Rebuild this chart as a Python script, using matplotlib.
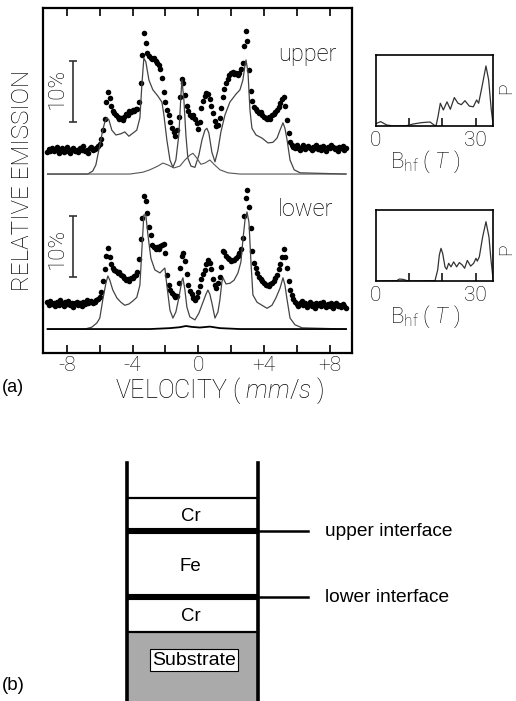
import numpy as np
import matplotlib
matplotlib.use('Agg')
import matplotlib.pyplot as plt

plt.rcParams['font.family'] = 'Roboto'
plt.rcParams['font.weight'] = 'light'
plt.rcParams['mathtext.fontset'] = 'custom'
plt.rcParams['mathtext.rm'] = 'Roboto:light'
plt.rcParams['mathtext.it'] = 'Roboto:italic:light'

# velocity channels (mm/s), -9.2 ... 9.0
vel = np.round(np.arange(-9.2, 9.05, 0.1), 1)

# relative emission (%) above each spectrum's own baseline
upper_dots = [3.6, 4.1, 3.8, 4.3, 3.7, 3.9, 4.4, 3.5, 4.0, 4.2, 3.6, 3.9, 4.5, 3.8, 3.4, 4.1,
              4.3, 3.7, 4.0, 3.6, 4.2, 3.9, 4.6, 3.8, 4.0, 3.5, 4.2, 4.4, 3.9, 4.1, 4.3, 4.6,
              4.9, 5.8, 7.2, 9.0, 11.8, 13.4, 12.5, 11.2, 10.3, 10.0,
              9.6, 9.3, 9.0, 9.2, 8.9, 9.4, 9.8, 9.6, 10.3, 10.1,
              10.5, 10.3, 10.7, 10.6, 11.8, 15.0, 19.5, 23.2, 21.5, 19.8,
              19.3, 19.1, 18.9, 19.0, 18.5, 18.2, 17.8, 17.2, 15.8, 13.4,
              11.8, 10.5, 9.6, 8.5, 7.6, 6.9, 6.3, 7.2, 9.4, 12.6,
              15.6, 15.0, 13.0, 11.2, 10.3, 9.7, 9.4, 9.6, 9.0, 8.4,
              7.4, 8.6, 10.8, 12.0, 12.8, 13.3, 13.2, 12.3, 11.2, 10.0,
              8.7, 7.8, 8.0, 9.2, 10.8, 12.6, 13.9, 14.9, 15.6, 16.2,
              16.5, 16.7, 16.4, 16.6, 16.3, 16.6, 17.2, 18.2, 21.0, 23.4,
              21.8, 17.0, 13.6, 12.0, 11.0, 10.6, 10.4, 10.0, 10.2, 9.7,
              9.4, 9.2, 9.0, 9.3, 9.1, 9.6, 9.8, 10.2, 10.5, 11.0,
              11.6, 12.3, 12.6, 11.2, 8.9, 6.8, 5.3, 4.7,
              4.4, 4.2, 4.7, 4.3, 4.0, 4.5, 4.8, 4.1, 4.4, 4.6, 4.2, 3.9, 4.5, 4.3, 4.7, 4.1,
              4.4, 4.0, 4.6, 4.3, 3.8, 4.5, 4.2, 4.7, 4.4, 4.1, 4.3, 3.7, 4.5, 4.2, 4.6, 4.0, 4.3]

lower_dots = [4.4, 3.9, 4.6, 4.1, 4.3, 3.7, 4.5, 4.0, 4.8, 4.2, 3.8, 4.4, 4.1, 4.6, 3.9, 4.3,
              3.6, 4.2, 4.5, 4.0, 4.3, 3.8, 4.4, 4.1, 4.7, 4.2, 4.4, 4.6, 4.3, 4.5, 4.8, 5.0,
              5.2, 6.0, 7.8, 9.8, 12.0, 13.3, 11.8, 10.6, 10.0, 9.6,
              9.5, 9.2, 9.3, 8.9, 8.7, 8.4, 8.0, 8.2, 7.9, 8.3,
              8.4, 8.7, 8.9, 9.4, 11.5, 14.8, 18.2, 21.8, 21.0, 19.0,
              16.8, 15.4, 13.8, 13.4, 13.2, 13.4, 13.2, 13.6, 13.8, 14.0,
              12.4, 8.8, 7.3, 6.4, 5.9, 5.6, 5.3, 5.4, 7.6, 10.0,
              12.0, 12.4, 11.2, 9.0, 7.3, 6.3, 5.7, 5.1, 4.8, 5.3,
              6.1, 7.0, 8.2, 9.0, 9.6, 10.6, 11.3, 10.8, 9.8, 8.2,
              7.2, 6.7, 7.5, 8.5, 10.2, 12.8, 12.7, 12.0, 11.6, 11.5,
              11.2, 11.4, 11.3, 11.6, 11.9, 12.4, 13.2, 15.0, 18.6, 21.5,
              22.8, 20.0, 16.5, 12.8, 10.8, 10.0, 9.2, 8.6, 8.2, 7.8,
              7.5, 7.3, 7.2, 7.0, 7.4, 7.5, 7.9, 8.4, 8.9, 9.8,
              10.6, 11.8, 13.2, 11.8, 10.0, 7.8, 6.4, 5.6, 5.0,
              4.4, 4.1, 3.8, 4.3, 4.6, 3.9, 4.2, 3.6, 4.0, 4.4, 3.8, 4.1, 3.5, 4.3, 3.9, 4.2,
              3.7, 4.4, 4.0, 3.6, 4.1, 3.8, 4.3, 3.5, 3.9, 4.2, 3.7, 4.0, 3.6, 4.1, 3.8, 3.4]

# fitted subspectra
upper_fit_v = [-9.17, -6.72, -6.42, -6.23, -5.99, -5.81, -5.69, -5.56, -5.44, -5.26,
               -5.01, -4.71, -4.47, -4.22, -3.98, -3.74, -3.55, -3.43, -3.31, -3.19,
               -3.0, -2.76, -2.46, -2.21, -2.09, -1.91, -1.72, -1.54, -1.36, -1.18,
               -1.05, -0.99, -0.87, -0.75, -0.63, -0.44, -0.2, 0.04, 0.23, 0.41,
               0.53, 0.65, 0.83, 1.02, 1.2, 1.38, 1.63, 1.93, 2.3, 2.54,
               2.72, 2.85, 2.91, 3.03, 3.15, 3.27, 3.52, 3.88, 4.25, 4.55,
               4.8, 4.98, 5.16, 5.28, 5.41, 5.59, 5.84, 6.2, 9.0]
upper_fit = [0, 0, 0.5, 1.5, 4.75, 7.2, 8.5, 9.2, 8.9, 7.2,
             6.4, 6.6, 6.9, 6.2, 6.7, 7.2, 9.2, 14.6, 19.0, 18.4,
             15.4, 13.8, 12.8, 11.8, 9.7, 5.6, 2.3, 1.1, 2.3, 6.4,
             13.0, 15.4, 12.1, 6.4, 2.6, 1.3, 1.1, 3.1, 5.6, 7.2,
             7.5, 6.7, 3.6, 2.0, 3.9, 6.9, 9.7, 11.8, 13.1, 13.8,
             15.4, 17.9, 18.7, 16.7, 10.5, 7.5, 6.4, 5.9, 5.1, 5.2,
             5.9, 7.2, 8.4, 7.5, 5.6, 2.3, 0.7, 0.2, 0]
upper_comp_v = [-9.17, -4.16, -3.37, -2.94, -2.46, -2.15, -1.85, -1.48, -1.12, -0.81, -0.51,
                -0.32, -0.08, 0.16, 0.41, 0.71, 0.96, 1.32, 1.81, 2.54, 9.0]
upper_comp = [0, 0, 0.3, 0.7, 1.3, 1.8, 1.5, 1.0, 1.3, 2.3, 3.1,
              3.4, 2.6, 1.6, 1.8, 2.3, 1.6, 0.7, 0.2, 0, 0]

lower_fit_v = [-9.17, -6.9, -6.48, -6.17, -5.99, -5.81, -5.62, -5.5, -5.38, -5.2,
               -4.95, -4.71, -4.47, -4.22, -3.98, -3.74, -3.55, -3.43, -3.31, -3.19,
               -3.06, -2.88, -2.64, -2.33, -2.15, -2.03, -1.91, -1.72, -1.54, -1.36,
               -1.18, -0.99, -0.93, -0.81, -0.69, -0.51, -0.2, 0.04, 0.29, 0.47,
               0.59, 0.71, 0.83, 1.02, 1.2, 1.32, 1.44, 1.51, 1.69, 1.93,
               2.18, 2.42, 2.6, 2.72, 2.85, 2.97, 3.09, 3.21, 3.33, 3.58,
               3.88, 4.19, 4.49, 4.73, 4.98, 5.16, 5.28, 5.41, 5.59, 5.89, 6.32, 9.0]
lower_fit = [0, 0, 0.3, 1.0, 1.8, 4.8, 7.5, 8.7, 8.0, 6.4,
             5.1, 4.4, 3.9, 4.1, 4.6, 5.2, 7.2, 13.0, 18.7, 18.7,
             15.4, 11.6, 9.7, 9.2, 9.7, 10.0, 7.2, 3.1, 1.8, 2.8,
             5.1, 8.0, 8.4, 6.4, 3.6, 2.0, 1.5, 2.6, 4.4, 5.7,
             6.4, 5.7, 4.3, 1.8, 2.8, 4.8, 7.7, 8.4, 7.4, 7.5,
             8.0, 9.2, 11.0, 14.6, 17.9, 19.2, 17.5, 11.0, 5.6, 4.4,
             3.9, 3.4, 3.9, 5.1, 6.7, 8.4, 7.2, 4.8, 1.8, 0.7, 0.2, 0]
lower_comp_v = [-9.17, -2.94, -1.72, -1.12, -0.75, -0.38, 0.1, 0.71, 1.32, 2.54, 9.0]
lower_comp = [0, 0, 0.15, 0.3, 0.5, 0.35, 0.25, 0.4, 0.15, 0, 0]

# hyperfine field distributions P(B), B in T
upper_b = [0.3, 1.5, 3.3, 5.3, 9.3, 11.3, 13.8, 16.3, 17.5, 18.1, 18.7, 19.4, 20.3, 21.4,
           22.4, 23.6, 24.7, 25.7, 26.8, 28.1, 29.3, 30.3, 30.9, 31.9, 33.1, 33.9, 34.7, 35.3]
upper_p = [0.038, 0.061, 0.014, 0.0, 0.005, 0.028, 0.047, 0.056, 0.014, 0.0, 0.131, 0.32, 0.225, 0.34,
           0.235, 0.40, 0.32, 0.30, 0.356, 0.28, 0.27, 0.366, 0.32, 0.55, 0.845, 0.65, 0.225, 0.0]
lower_b = [0.3, 6.3, 7.1, 8.3, 9.8, 17.8, 18.6, 19.1, 19.6, 20.1, 20.8, 21.3, 21.9, 22.6, 23.4,
           24.3, 25.1, 26.0, 26.7, 27.5, 28.5, 29.4, 30.1, 30.5, 31.1, 32.1, 33.1, 34.0, 34.6, 35.3]
lower_p = [0.0, 0.005, 0.028, 0.023, 0.0, 0.005, 0.155, 0.366, 0.46, 0.39, 0.20, 0.165, 0.25, 0.20, 0.27,
           0.20, 0.26, 0.225, 0.18, 0.29, 0.21, 0.25, 0.32, 0.28, 0.34, 0.62, 0.835, 0.62, 0.30, 0.0]

# layer stack for (b), bottom to top (thickness in arbitrary units)
layer_names = ['Substrate', 'Cr', 'Fe', 'Cr']
layer_thick = [2.09, 1.06, 2.0, 1.0]
top_space = 1.06

fig = plt.figure(figsize=(5.16, 7.01), dpi=100)

# ---- (a) spectra
ax = fig.add_axes([0.0833, 0.4964, 0.5988, 0.4922])
up_off, lo_off = 29.34, 3.93
ax.plot(vel, up_off + np.array(upper_dots), 'o', ms=4.0, color='k', mew=0)
ax.plot(upper_fit_v, up_off + np.array(upper_fit), color='#444444', lw=0.9)
ax.plot(upper_comp_v, up_off + np.array(upper_comp), color='#555555', lw=0.8)
ax.plot(vel, lo_off + np.array(lower_dots), 'o', ms=4.0, color='k', mew=0)
ax.plot(lower_fit_v, lo_off + np.array(lower_fit), color='#444444', lw=0.9)
ax.plot(lower_comp_v, lo_off + np.array(lower_comp), color='k', lw=1.3)

# 10% scale bars
ax.errorbar([-7.63, -7.63], [42.95, 17.5], yerr=5, fmt='none', ecolor='#333333',
            elinewidth=1.2, capsize=3, capthick=1.2)
ax.text(-8.6, 43.4, '10%', rotation=90, ha='center', va='center', fontsize=16)
ax.text(-8.6, 17.2, '10%', rotation=90, ha='center', va='center', fontsize=16)
ax.text(4.86, 47.87, 'upper', fontsize=17, va='baseline')
ax.text(4.86, 22.46, 'lower', fontsize=17, va='baseline')

ax.set_xlim(-9.45, 9.36)
ax.set_ylim(0, 56.56)
ax.set_yticks([])
ax.set_xticks([-8, -4, 0, 4, 8])
ax.set_xticklabels(['-8', '-4', '0', '+4', '+8'])
ax.set_xticks([-6, -2, 2, 6], minor=True)
ax.tick_params(which='both', direction='in', top=True, length=6, width=1.2)
ax.tick_params(labelsize=15, pad=2)
for s in ax.spines.values():
    s.set_linewidth(1.6)

fig.text(22/516, 1 - 180/701, 'RELATIVE EMISSION', rotation=90, ha='center', va='center',
         fontsize=17.5)
fig.text(220/516, 1 - 391/701, r'VELOCITY ( $\it{mm/s}$ )', ha='center', va='center',
         fontsize=18)
fig.text(2/516, 1 - 388/701, '(a)', family='Liberation Sans', weight='normal',
         fontsize=13, va='center')

# ---- P(B) insets
for pos, b, p, py in [([0.7281, 0.8203, 0.2279, 0.1013], upper_b, upper_p, 0.535),
                      ([0.7281, 0.5991, 0.2279, 0.1013], lower_b, lower_p, 0.45)]:
    a = fig.add_axes(pos)
    a.plot(b, p, color='#333333', lw=0.9)
    a.set_xlim(0, 35.3)
    a.set_ylim(0, 1)
    a.set_yticks([])
    a.set_xticks([10, 20, 30])
    a.set_xticklabels([])
    a.tick_params(direction='in', length=6, width=1.1)
    for s in a.spines.values():
        s.set_linewidth(1.2)
    a.text(0, -0.204, '0', ha='center', va='center', fontsize=15, clip_on=False)
    a.text(30, -0.204, '30', ha='center', va='center', fontsize=15, clip_on=False)
    a.text(14.8, -0.51, r'B$_{\rm hf}$ ( $\it{T}$ )', ha='center', va='center', fontsize=16,
           clip_on=False)
    a.text(39.3, py, 'P', rotation=90, ha='center', va='center', fontsize=14, clip_on=False)

# ---- (b) layer sketch
bx = fig.add_axes([0.2455, 0.0, 0.2539, 0.3395])
bounds = np.cumsum([0] + layer_thick)
bx.set_xlim(0, 1)
bx.set_ylim(0, bounds[-1] + top_space)
bx.axhspan(0, bounds[1], color='#aaaaaa', lw=0)
for s in ['top', 'bottom']:
    bx.spines[s].set_visible(False)
for s in ['left', 'right']:
    bx.spines[s].set_linewidth(2.6)
bx.set_xticks([])
bx.set_yticks([])
bx.axhline(bounds[1], color='k', lw=1.6)
bx.axhline(bounds[4], color='k', lw=1.6)
for yb, name in [(bounds[2], 'lower interface'), (bounds[3], 'upper interface')]:
    bx.axhline(yb, color='k', lw=4.4)
    bx.plot([1, 1.385], [yb, yb], color='k', lw=1.8, clip_on=False)
    bx.text(1.514, yb, name, family='Liberation Sans', weight='normal', fontsize=13.8,
            va='center', ha='left', clip_on=False)
for i, name in enumerate(layer_names):
    mid = (bounds[i] + bounds[i + 1]) / 2
    if name == 'Substrate':
        bx.text(0.514, 1.24, name, family='Liberation Sans', weight='normal', fontsize=14,
                ha='center', va='center',
                bbox=dict(boxstyle='square,pad=0.12', fc='w', ec='k', lw=0.8))
    else:
        bx.text(0.49, mid - 0.07, name, family='Liberation Sans', weight='normal',
                fontsize=13.4, ha='center', va='center')
fig.text(2/516, 1 - 686/701, '(b)', family='Liberation Sans', weight='normal',
         fontsize=13.5, va='center')

plt.savefig('out.png', dpi=100)
